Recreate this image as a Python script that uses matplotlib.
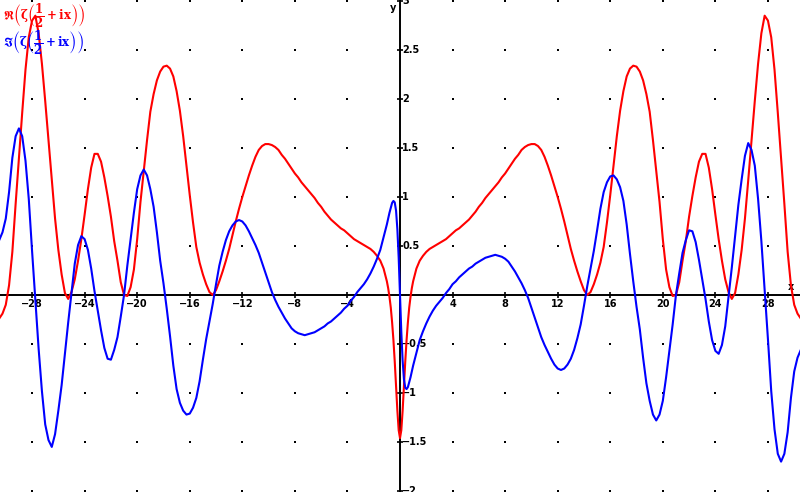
import numpy as np
import matplotlib.pyplot as plt

t_half = [0, 0.1, 0.2, 0.3, 0.4, 0.5, 0.6, 0.7, 0.8, 0.9,
          1.0, 1.25, 1.5, 1.75, 2.0, 2.25, 2.5, 2.75, 3.0, 3.25, 3.5, 3.75,
          4.0, 4.25, 4.5, 4.75, 5.0, 5.25, 5.5, 5.75, 6.0, 6.25, 6.5, 6.75,
          7.0, 7.25, 7.5, 7.75, 8.0, 8.25, 8.5, 8.75, 9.0, 9.25, 9.5, 9.75,
          10.0, 10.25, 10.5, 10.75, 11.0, 11.25, 11.5, 11.75, 12.0, 12.25, 12.5, 12.75,
          13.0, 13.25, 13.5, 13.75, 14.0, 14.25, 14.5, 14.75, 15.0, 15.25, 15.5, 15.75,
          16.0, 16.25, 16.5, 16.75, 17.0, 17.25, 17.5, 17.75, 18.0, 18.25, 18.5, 18.75,
          19.0, 19.25, 19.5, 19.75, 20.0, 20.25, 20.5, 20.75, 21.0, 21.25, 21.5, 21.75,
          22.0, 22.25, 22.5, 22.75, 23.0, 23.25, 23.5, 23.75, 24.0, 24.25, 24.5, 24.75,
          25.0, 25.25, 25.5, 25.75, 26.0, 26.25, 26.5, 26.75, 27.0, 27.25, 27.5, 27.75,
          28.0, 28.25, 28.5, 28.75, 29.0, 29.25, 29.5, 29.75, 30.0, 30.25, 30.5]

re_half = [-1.46, -1.38, -1.18, -0.93, -0.68, -0.46, -0.28, -0.13, -0.02, 0.07,
           0.14, 0.27, 0.35, 0.40, 0.44, 0.47, 0.49, 0.51, 0.53, 0.55, 0.57, 0.60,
           0.63, 0.66, 0.68, 0.71, 0.74, 0.77, 0.81, 0.85, 0.90, 0.94, 0.99, 1.03,
           1.07, 1.11, 1.15, 1.20, 1.24, 1.29, 1.34, 1.39, 1.43, 1.48, 1.51, 1.53,
           1.54, 1.54, 1.52, 1.48, 1.41, 1.32, 1.22, 1.11, 1.00, 0.88, 0.75, 0.61,
           0.47, 0.35, 0.24, 0.14, 0.05, 0.00, 0.03, 0.11, 0.21, 0.33, 0.49, 0.74,
           1.02, 1.32, 1.62, 1.88, 2.08, 2.23, 2.31, 2.34, 2.33, 2.28, 2.19, 2.05,
           1.87, 1.58, 1.27, 0.95, 0.57, 0.26, 0.08, -0.01, 0.00, 0.13, 0.35, 0.55,
           0.80, 1.01, 1.20, 1.36, 1.44, 1.44, 1.30, 1.08, 0.82, 0.57, 0.35, 0.16,
           0.03, -0.04, 0.02, 0.21, 0.46, 0.78, 1.17, 1.58, 1.98, 2.36, 2.67, 2.85,
           2.80, 2.63, 2.30, 1.86, 1.40, 0.93, 0.44, 0.10, -0.10, -0.19, -0.24]

im_half = [0.0, -0.38, -0.67, -0.86, -0.945, -0.96, -0.94, -0.89, -0.84, -0.78,
           -0.72, -0.59, -0.46, -0.37, -0.29, -0.22, -0.16, -0.11, -0.07, -0.03, 0.02, 0.06,
           0.11, 0.14, 0.18, 0.21, 0.24, 0.27, 0.29, 0.32, 0.34, 0.36, 0.38, 0.39,
           0.40, 0.41, 0.40, 0.39, 0.37, 0.34, 0.29, 0.24, 0.18, 0.12, 0.05, -0.03,
           -0.13, -0.23, -0.33, -0.43, -0.51, -0.58, -0.65, -0.71, -0.75, -0.765, -0.75, -0.71,
           -0.65, -0.56, -0.44, -0.30, -0.11, 0.09, 0.27, 0.45, 0.66, 0.88, 1.05, 1.15,
           1.21, 1.22, 1.18, 1.10, 0.96, 0.72, 0.42, 0.14, -0.12, -0.35, -0.64, -0.90,
           -1.08, -1.22, -1.28, -1.22, -1.08, -0.84, -0.57, -0.30, 0.00, 0.22, 0.43, 0.56,
           0.66, 0.65, 0.54, 0.36, 0.16, -0.04, -0.27, -0.46, -0.57, -0.60, -0.51, -0.32,
           -0.02, 0.28, 0.60, 0.92, 1.18, 1.42, 1.55, 1.48, 1.32, 0.98, 0.55, 0.05,
           -0.45, -0.98, -1.37, -1.62, -1.70, -1.62, -1.40, -1.05, -0.78, -0.64, -0.56]

x_ticks = [-28, -24, -20, -16, -12, -8, -4, 4, 8, 12, 16, 20, 24, 28]
y_ticks = [-2, -1.5, -1, -0.5, 0.5, 1, 1.5, 2, 2.5, 3]

t = np.array(t_half)
xs = np.concatenate([-t[::-1], t[1:]])
re = np.array(re_half)
im = np.array(im_half)
re_full = np.concatenate([re[::-1], re[1:]])
im_full = np.concatenate([-im[::-1], im[1:]])

plt.rcParams["mathtext.fontset"] = "dejavuserif"
plt.rcParams["mathtext.default"] = "bf"

fig = plt.figure(figsize=(8, 4.92), dpi=100)
ax = fig.add_axes([0, 0, 1, 1])
ax.set_xlim(-30.44, 30.44)
ax.set_ylim(-2.01, 3.01)
ax.axis("off")

# dotted grid
gx, gy = np.meshgrid(np.arange(-28, 29, 4), np.arange(-2, 3.01, 0.5))
ax.scatter(gx.ravel(), gy.ravel(), s=2, c="black", marker="s", linewidths=0, zorder=1)

ax.axhline(0, color="black", lw=1.4, zorder=2)
ax.axvline(0, color="black", lw=1.4, zorder=2)
ax.plot(x_ticks, [0] * len(x_ticks), "|", color="black", ms=4, mew=1.2, zorder=2)
ax.plot([0] * len(y_ticks), y_ticks, "_", color="black", ms=4, mew=1.2, zorder=2)

def lab(v):
    s = ("%g" % v)
    return s.replace("-", "\u2212")

for v in x_ticks:
    ax.annotate(lab(v), (v, 0), xytext=(0, -3), textcoords="offset points",
                ha="center", va="top", fontsize=7, fontweight="bold")
for v in y_ticks:
    ax.annotate(lab(v), (0, v), xytext=(1.5, 0), textcoords="offset points",
                ha="left", va="center", fontsize=7, fontweight="bold")

ax.annotate("x", (30.44, 0), xytext=(-4, 2), textcoords="offset points",
            ha="right", va="bottom", fontsize=7, fontweight="bold")
ax.annotate("y", (0, 3.01), xytext=(-3, -2), textcoords="offset points",
            ha="right", va="top", fontsize=7, fontweight="bold")

ax.plot(xs, re_full, color="#ff0000", lw=1.5, zorder=3, solid_joinstyle="round")
ax.plot(xs, im_full, color="#0000ff", lw=1.5, zorder=3, solid_joinstyle="round")

fig.text(0.004, 1 - 20 / 492, r"$\Re\left(\zeta\left(\dfrac{1}{2}+ix\right)\right)$",
         color="#ff0000", ha="left", va="baseline", fontsize=8.5)
fig.text(0.004, 1 - 47 / 492, r"$\Im\left(\zeta\left(\dfrac{1}{2}+ix\right)\right)$",
         color="#0000ff", ha="left", va="baseline", fontsize=8.5)

fig.savefig("out.png", dpi=100)
